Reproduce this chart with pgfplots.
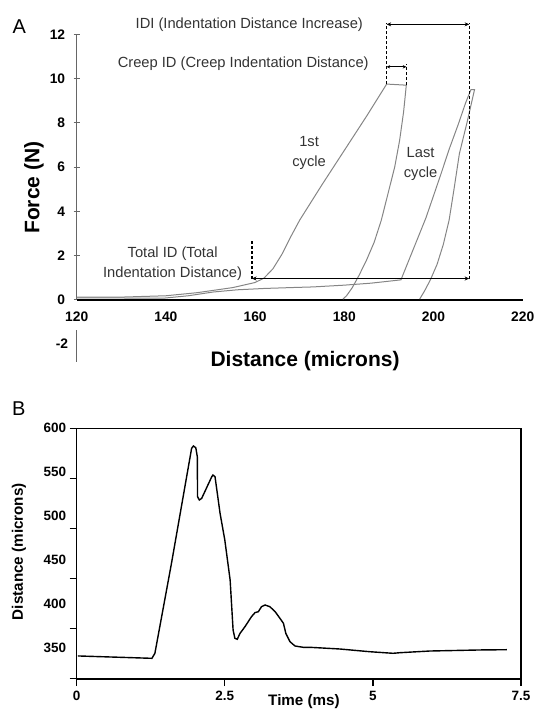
\documentclass[border=0pt]{standalone}
\usepackage{fontspec}
\setmainfont{Liberation Sans}
\usepackage{pgfplots}
\usepackage{pgfplotstable}
\pgfplotsset{compat=1.18}
\usetikzlibrary{arrows.meta}

\pgfplotstableread{
x y
120 0.12
130 0.12
140 0.18
147 0.32
155 0.55
160 0.78
162 0.98
164 1.4
166 2.05
168 2.85
170 3.6
175 5.2
180 6.75
185 8.3
189.5 9.75
193.9 9.7
193.3 8.5
192.4 7.2
191.3 6.0
189.8 4.8
188.3 3.6
186.7 2.6
185.0 1.8
183.3 1.1
181.8 0.55
180.5 0.18
179.7 0.03
}\firstcycle

\pgfplotstableread{
x y
120 0.08
130 0.08
139.4 0.07
145 0.18
150.6 0.35
156 0.45
162 0.51
168 0.55
173 0.58
180 0.66
186 0.75
192.7 0.9
194.5 1.8
196.5 2.8
198.3 3.7
200 4.7
201.7 5.7
203.5 6.8
205.5 7.9
207.2 8.9
208.4 9.5
209.2 9.5
207.5 8.0
205.8 6.6
204.6 5.0
203.5 3.6
202.2 2.5
200.8 1.6
199.3 0.9
198.0 0.4
196.9 0.03
}\lastcycle

\pgfplotstableread{
t v
0.02 341.3
1.27 338.6
1.32 344.3
1.60 446.6
1.94 577.3
1.97 579.9
2.01 578.0
2.036 567.7
2.04 522.3
2.07 518.5
2.11 520.4
2.28 545.0
2.30 546.9
2.335 545.0
2.42 503.4
2.50 473.1
2.59 427.6
2.64 370.8
2.67 361.4
2.71 360.2
2.757 367.0
2.84 374.5
2.95 385.9
3.01 390.5
3.066 391.6
3.12 397.3
3.18 399.2
3.26 397.3
3.35 391.6
3.43 384.1
3.49 378.4
3.53 367.0
3.60 357.5
3.685 352.6
3.825 351.1
3.94 351.1
4.44 349.2
4.95 346.1
5.34 344.3
5.46 345.0
5.96 346.9
6.81 348.1
7.26 348.4
}\timeseries

\newcommand{\annfont}{\fontsize{14.7}{20}\selectfont}

\begin{document}
\begin{tikzpicture}
\useasboundingbox (0,0) rectangle (536pt,725pt);

% ---------------- Panel A ----------------
\begin{axis}[
  at={(76.7pt,363.3pt)}, anchor=south west,
  scale only axis, width=446pt, height=327.4pt,
  xmin=120, xmax=220, ymin=-2.8, ymax=12,
  axis x line*=middle, axis y line*=left,
  hide obscured x ticks=false, hide obscured y ticks=false,
  x axis line style={line width=1.6pt, black},
  y axis line style={draw=none},
  xtick={120,140,...,220}, ytick={0,2,...,12},
  extra y ticks={-2}, extra y tick style={major tick length=0pt},
  x tick style={draw=none},
  y tick style={black!60, line width=0.9pt},
  tick align=center, major tick length=6pt,
  /pgf/number format/assume math mode=true,
  tick label style={font=\bfseries\fontsize{13.8}{13.8}\selectfont},
  xticklabel style={yshift=-6pt},
  yticklabel style={xshift=-5pt},
  clip=false,
  xlabel={Distance (microns)},
  ylabel={Force (N)},
  xlabel style={at={(axis cs:171.2,-2.78)}, anchor=center, font=\bfseries\fontsize{21}{21}\selectfont},
  ylabel style={at={(axis cs:110.4,5.07)}, anchor=center, rotate=0, font=\bfseries\fontsize{21}{21}\selectfont},
]
\draw[black!60, line width=1.2pt] (axis cs:120,0) -- (axis cs:120,12);
\draw[black!60, line width=1.2pt] (axis cs:120,-1.38) -- (axis cs:120,-2.8);

\addplot[black!48, line width=1pt] table[x=x,y=y] {\firstcycle};
\addplot[black!48, line width=1pt] table[x=x,y=y] {\lastcycle};

% annotations
\draw[black, line width=1.2pt, dash pattern=on 3pt off 2pt] (axis cs:159.3,0.96) -- (axis cs:159.3,2.72);
\draw[black, line width=1.2pt, dash pattern=on 3pt off 2pt] (axis cs:189.5,9.75) -- (axis cs:189.5,12.5);
\draw[black, line width=1.2pt, dash pattern=on 3pt off 2pt] (axis cs:193.9,9.7) -- (axis cs:193.9,10.65);
\draw[black, line width=1.2pt, dash pattern=on 3pt off 2pt] (axis cs:208.0,0.96) -- (axis cs:208.0,12.5);
\draw[black, line width=1.2pt, {Stealth[length=4.5pt,width=4pt]}-{Stealth[length=4.5pt,width=4pt]}] (axis cs:159.3,0.96) -- (axis cs:208.0,0.96);
\draw[black, line width=1.2pt, {Stealth[length=4.5pt,width=4pt]}-{Stealth[length=4.5pt,width=4pt]}] (axis cs:189.5,12.45) -- (axis cs:208.0,12.45);
\draw[black, line width=1.1pt, {Stealth[length=3.5pt,width=3.5pt]}-{Stealth[length=3.5pt,width=3.5pt]}] (axis cs:189.5,10.53) -- (axis cs:193.9,10.53);

\node[black!80, font=\annfont, anchor=center] at (axis cs:158.7,12.42) {IDI (Indentation Distance Increase)};
\node[black!80, font=\annfont, anchor=east, inner sep=0pt] at (axis cs:185.5,10.65) {Creep ID (Creep Indentation Distance)};
\node[black!80, font=\annfont, align=center] at (axis cs:141.5,1.64) {Total ID (Total\\Indentation Distance)};
\node[black!80, font=\annfont, align=center] at (axis cs:172.1,6.62) {1st\\cycle};
\node[black!80, font=\annfont, align=center] at (axis cs:197.1,6.13) {Last\\cycle};
\end{axis}

% ---------------- Panel B ----------------
\begin{axis}[
  at={(76.7pt,46pt)}, anchor=south west,
  scale only axis, width=444.3pt, height=250.7pt,
  xmin=0, xmax=7.5, ymin=315.1, ymax=600,
  axis line style={line width=1.3pt, black},
  xtick={0,2.5,5,7.5},
  xticklabels={0,2.5,5,7.5},
  ytick={600,543.2,486.4,429.5,372.7,315.9},
  yticklabels={},
  extra y ticks={350,400,450,500,550,600},
  extra y tick labels={350,400,450,500,550,600},
  extra y tick style={major tick length=0pt, yticklabel style={xshift=-7pt}},
  xtick pos=bottom, ytick pos=left,
  tick align=outside, major tick length=7pt,
  tick style={black, line width=1.2pt},
  /pgf/number format/assume math mode=true,
  tick label style={font=\bfseries\fontsize{13.5}{13.5}\selectfont},
  xticklabel style={yshift=-2pt},
  clip=false,
  xlabel={Time (ms)},
  ylabel={Distance (microns)},
  xlabel style={at={(axis cs:3.837,289.3)}, anchor=center, font=\bfseries\fontsize{15.2}{15.2}\selectfont},
  ylabel style={at={(axis cs:-0.977,459.8)}, anchor=center, font=\bfseries\fontsize{15.2}{15.2}\selectfont},
]
\addplot[black, line width=1.4pt] table[x=t,y=v] {\timeseries};
\end{axis}

\node[font=\fontsize{20}{20}\selectfont, anchor=center] at (19.3pt,698.3pt) {A};
\node[font=\fontsize{20}{20}\selectfont, anchor=center] at (18.8pt,316.7pt) {B};
\end{tikzpicture}
\end{document}
